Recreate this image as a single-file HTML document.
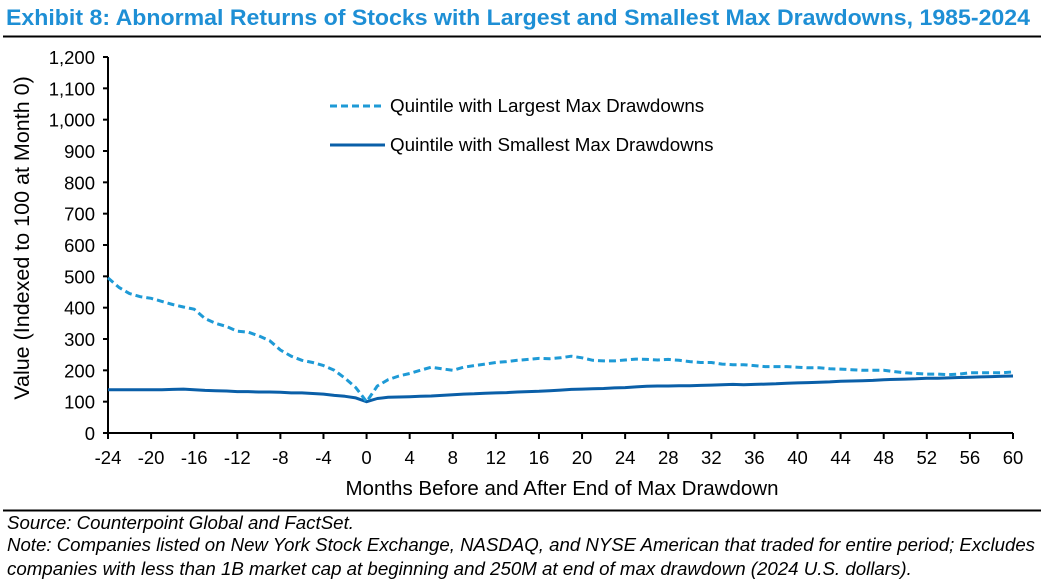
<!DOCTYPE html>
<html><head><meta charset="utf-8"><style>
body{margin:0;background:#fff;width:1041px;height:585px;overflow:hidden;font-family:"Liberation Sans",Arial,sans-serif}
svg{position:absolute;left:0;top:0}
</style></head><body>
<svg width="1041" height="585" id="c">
<text x="6" y="25" font-size="22.5" font-weight="bold" fill="#1e8fd5" textLength="1024" lengthAdjust="spacingAndGlyphs">Exhibit 8: Abnormal Returns of Stocks with Largest and Smallest Max Drawdowns, 1985-2024</text>
<line x1="3" y1="36.5" x2="1041" y2="36.5" stroke="#000" stroke-width="2"/>
<line x1="3" y1="510.5" x2="1041" y2="510.5" stroke="#000" stroke-width="2"/>
<text x="7" y="529" font-size="18.7" font-style="italic">Source: Counterpoint Global and FactSet.</text>
<text x="7" y="551" font-size="18.7" font-style="italic" textLength="1028" lengthAdjust="spacingAndGlyphs">Note: Companies listed on New York Stock Exchange, NASDAQ, and NYSE American that traded for entire period; Excludes</text>
<text x="7" y="575" font-size="18.7" font-style="italic">companies with less than 1B market cap at beginning and 250M at end of max drawdown (2024 U.S. dollars).</text>
<text transform="translate(29,238) rotate(-90)" text-anchor="middle" font-size="21.5">Value (Indexed to 100 at Month 0)</text>
<text x="562" y="495" text-anchor="middle" font-size="20.5">Months Before and After End of Max Drawdown</text>
<g id="axes"></g>
<g id="series"></g>
<line x1="330" y1="106" x2="385" y2="106" stroke="#1e9ad6" stroke-width="3" stroke-dasharray="7,4"/>
<text x="390" y="112" font-size="18.8">Quintile with Largest Max Drawdowns</text>
<line x1="330" y1="145" x2="385" y2="145" stroke="#0a5fa8" stroke-width="3"/>
<text x="390" y="151" font-size="18.8">Quintile with Smallest Max Drawdowns</text>
</svg>
<script>
const months=[];for(let m=-24;m<=60;m++)months.push(m);
const largest=[495,465,445,435,430,420,410,402,395,365,350,340,325,322,310,295,265,245,232,225,215,200,175,145,100,150,170,182,190,200,210,205,200,210,215,220,225,228,232,235,238,237,240,245,240,232,230,230,233,236,235,233,235,232,228,225,225,220,218,218,215,212,212,212,210,208,208,205,204,202,200,200,200,196,192,190,188,188,186,188,192,192,192,192,195];
const smallest=[138,138,138,138,138,138,139,140,138,136,135,134,132,132,131,131,130,128,128,126,124,120,117,112,100,110,114,115,116,117,118,120,122,124,125,127,128,129,131,132,133,135,137,139,140,141,142,144,145,147,149,150,150,151,151,152,153,154,155,154,155,156,157,159,160,161,162,163,165,166,167,168,170,171,172,173,175,175,176,177,178,179,180,181,182];
const yTicks=[0,100,200,300,400,500,600,700,800,900,1000,1100,1200];
const xTicks=[-24,-20,-16,-12,-8,-4,0,4,8,12,16,20,24,28,32,36,40,44,48,52,56,60];
const X0=108,X1=1013,Y0=433,Y1=57;
const xs=m=>X0+(m+24)/84*(X1-X0);
const ys=v=>Y0-v/1200*(Y0-Y1);
const NS="http://www.w3.org/2000/svg";
const ax=document.getElementById('axes'),se=document.getElementById('series');
function mk(t,a,p){const e=document.createElementNS(NS,t);for(const k in a)e.setAttribute(k,a[k]);p.appendChild(e);return e;}
let e=mk('line',{x1:X0,y1:Y1,x2:X0,y2:Y0,stroke:'#000','stroke-width':2},ax);


e=mk('line',{x1:X0,y1:Y0,x2:X1,y2:Y0,stroke:'#000','stroke-width':2},ax);


yTicks.forEach(v=>{const y=ys(v);
mk('line',{x1:X0-5,y1:y,x2:X0,y2:y,stroke:'#000','stroke-width':2},ax);
const t=mk('text',{x:95,y:y+7,'text-anchor':'end','font-size':18.5},ax);t.textContent=v.toLocaleString('en-US');

});
xTicks.forEach(m=>{const x=xs(m);
mk('line',{x1:x,y1:Y0,x2:x,y2:Y0+6,stroke:'#000','stroke-width':2},ax);
const t=mk('text',{x:x,y:464,'text-anchor':'middle','font-size':18.5},ax);t.textContent=m;

});
function path(arr){return arr.map((v,i)=>(i?'L':'M')+xs(months[i]).toFixed(1)+','+ys(v).toFixed(1)).join('');}
e=mk('path',{d:path(smallest),fill:'none',stroke:'#0a5fa8','stroke-width':3,'stroke-linejoin':'round'},se);


e=mk('path',{d:path(largest),fill:'none',stroke:'#1e9ad6','stroke-width':3,'stroke-dasharray':'7,4','stroke-linejoin':'round'},se);


</script>
</body></html>
